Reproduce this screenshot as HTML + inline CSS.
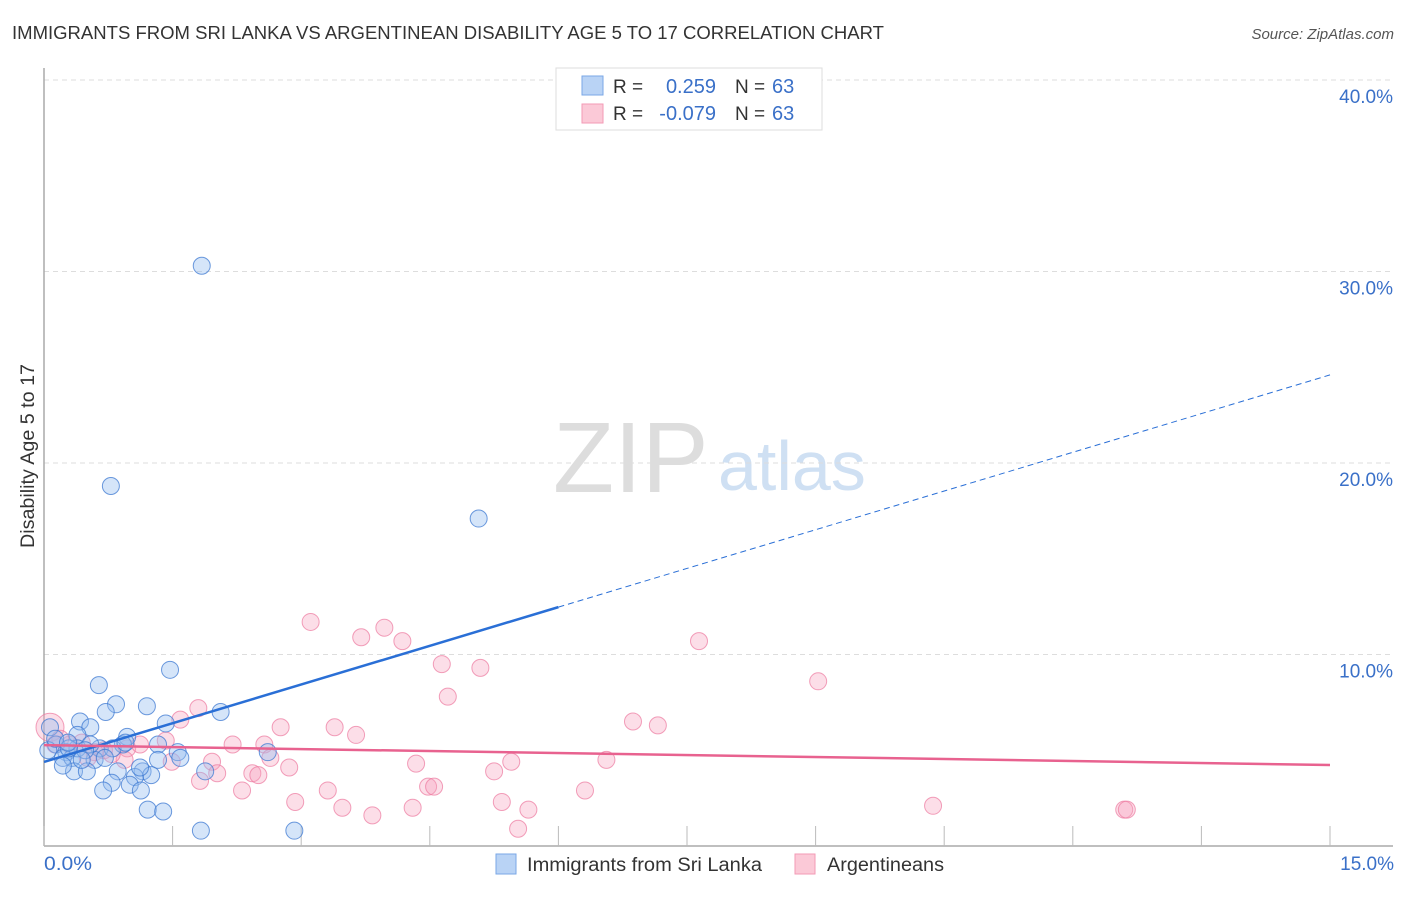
<!DOCTYPE html>
<html><head><meta charset="utf-8"><style>
body{margin:0;background:#fff;font-family:"Liberation Sans",sans-serif}
svg text{font-family:"Liberation Sans",sans-serif}
</style></head><body>
<svg id="c" width="1406" height="892">
<text x="12" y="39" font-size="18" fill="#333" textLength="872" lengthAdjust="spacingAndGlyphs">IMMIGRANTS FROM SRI LANKA VS ARGENTINEAN DISABILITY AGE 5 TO 17 CORRELATION CHART</text>
<text x="1394" y="39" font-size="15" fill="#555" font-style="italic" text-anchor="end">Source: ZipAtlas.com</text>
<g>
<text x="553" y="492" font-size="100" fill="#ddd" font-family="Liberation Serif">ZIP</text>
<text x="718" y="490" font-size="70" fill="#cfe0f3">atlas</text>
</g>
<g id="grid"></g><g id="axes"></g><g id="pts"></g><g id="lines"></g>
<text transform="translate(34,456) rotate(-90)" font-size="19" fill="#333" text-anchor="middle" textLength="184" lengthAdjust="spacingAndGlyphs">Disability Age 5 to 17</text>
<text x="44" y="870" font-size="19" fill="#3a70c8" textLength="48" lengthAdjust="spacingAndGlyphs">0.0%</text>
<text x="1394" y="870" font-size="19" fill="#3a70c8" text-anchor="end">15.0%</text>
<g>
<rect x="556" y="68" width="266" height="62" fill="#fff" stroke="#ddd"/>
<rect x="582" y="76" width="21" height="19" fill="#b9d3f5" stroke="#7aa7e6"/>
<rect x="582" y="104" width="21" height="19" fill="#fbc9d7" stroke="#f39ab5"/>
<text x="613" y="93" font-size="19" fill="#333">R =</text>
<text x="716" y="93" font-size="20" fill="#3a70c8" text-anchor="end">0.259</text>
<text x="735" y="93" font-size="19" fill="#333">N =</text><text x="772" y="93" font-size="20" fill="#3a70c8">63</text>
<text x="613" y="120" font-size="19" fill="#333">R =</text>
<text x="716" y="120" font-size="20" fill="#3a70c8" text-anchor="end">-0.079</text>
<text x="735" y="120" font-size="19" fill="#333">N =</text><text x="772" y="120" font-size="20" fill="#3a70c8">63</text>
</g>
<g>
<rect x="496" y="854" width="20" height="20" fill="#b9d3f5" stroke="#7aa7e6"/>
<text x="527" y="871" font-size="19" fill="#333" textLength="235" lengthAdjust="spacingAndGlyphs">Immigrants from Sri Lanka</text>
<rect x="795" y="854" width="20" height="20" fill="#fbc9d7" stroke="#f39ab5"/>
<text x="827" y="871" font-size="19" fill="#333" textLength="117" lengthAdjust="spacingAndGlyphs">Argentineans</text>
</g>
</svg>
<script>
const yTicks=[10,20,30,40];
const yTickLabels=["10.0%","20.0%","30.0%","40.0%"];
const xTicks=[0,1.5,3,4.5,6,7.5,9,10.5,12,13.5,15];
const blueX=[1.84,0.78,5.07,1.47,0.64,0.84,1.20,2.06,0.72,0.42,0.54,1.42,0.97,0.39,0.07,0.14,0.05,0.26,0.22,0.33,0.39,0.65,0.92,1.33,1.56,1.33,0.59,0.35,0.50,0.86,1.15,1.25,1.06,1.88,0.79,1.00,0.69,1.13,1.21,1.39,1.83,2.92,2.61,0.54,0.48,0.80,0.95,0.29,0.13,1.59,0.28,0.44,0.71,1.12,0.22];
const blueY=[30.3,18.8,17.1,9.2,8.4,7.4,7.3,7.0,7.0,6.5,6.2,6.4,5.7,5.8,6.2,5.3,5.0,4.9,4.6,4.6,5.1,5.1,5.3,5.3,4.9,4.5,4.5,3.9,3.9,3.9,3.9,3.7,3.6,3.9,3.3,3.2,2.9,2.9,1.9,1.8,0.8,0.8,4.9,5.3,5.0,5.1,5.4,5.1,5.6,4.6,5.4,4.5,4.6,4.1,4.2];
const pinkX=[3.11,3.70,3.97,4.18,7.64,4.64,5.09,4.71,9.03,1.80,1.59,6.87,7.16,2.76,3.39,3.64,0.07,2.20,2.57,1.42,0.97,0.70,0.30,2.64,1.96,1.49,0.94,4.34,5.45,6.56,2.86,2.02,2.43,2.50,5.25,1.82,2.31,3.31,4.48,4.55,6.31,2.93,3.48,4.30,5.34,5.65,3.83,5.53,10.37,12.60,12.63,0.19,0.44,0.59,0.79,1.12,0.51,0.13];
const pinkY=[11.7,10.9,11.4,10.7,10.7,9.5,9.3,7.8,8.6,7.2,6.6,6.5,6.3,6.2,6.2,5.8,6.2,5.3,5.3,5.5,5.1,5.0,5.3,4.6,4.4,4.4,4.5,4.3,4.4,4.5,4.1,3.8,3.8,3.7,3.9,3.4,2.9,2.9,3.1,3.1,2.9,2.3,2.0,2.0,2.3,1.9,1.6,0.9,2.1,1.9,1.9,5.6,5.4,4.9,4.8,5.3,4.6,5.3];
const blueFit=[4.39,24.6]; // y at x=0, x=15
const pinkFit=[5.27,4.23];
const blueSolidEnd=6.0;
const X0=44,X1=1330,Y0=846,PPY=19.15;
const sx=v=>X0+(X1-X0)*v/15, sy=v=>Y0-v*PPY;
const NS="http://www.w3.org/2000/svg";
function mk(p,t,a){const e=document.createElementNS(NS,t);for(const k in a)e.setAttribute(k,a[k]);document.getElementById(p).appendChild(e);return e;}
yTicks.forEach((t,i)=>{
 const g=mk('grid','line',{x1:X0,x2:1393,y1:sy(t),y2:sy(t),stroke:'#ddd','stroke-dasharray':'5,4'});
 
 
 const l=mk('grid','text',{x:1393,y:sy(t)+23,'font-size':19,fill:'#3a70c8','text-anchor':'end'});
 l.textContent=yTickLabels[i];
 
 
});
const tl=mk('grid','line',{x1:X0,x2:1393,y1:80,y2:80,stroke:'#ddd','stroke-dasharray':'5,4'});


const ya=mk('axes','line',{x1:X0,x2:X0,y1:68,y2:Y0,stroke:'#aaa','stroke-width':1.5});


const xa=mk('axes','line',{x1:X0,x2:1393,y1:Y0,y2:Y0,stroke:'#aaa','stroke-width':1.5});


xTicks.forEach(t=>{
 const e=mk('axes','line',{x1:sx(t),x2:sx(t),y1:Y0-20,y2:Y0,stroke:'#bbb'});
 
 
});
pinkX.forEach((x,i)=>{
 const c=mk('pts','circle',{cx:sx(x),cy:sy(pinkY[i]),r:i==16?14:8.5,fill:'rgba(246,160,188,0.35)',stroke:'rgba(236,120,158,0.7)','stroke-width':1});
 
 
});
blueX.forEach((x,i)=>{
 const c=mk('pts','circle',{cx:sx(x),cy:sy(blueY[i]),r:8.5,fill:'rgba(150,190,240,0.4)',stroke:'rgba(60,120,210,0.75)','stroke-width':1});
 
 
});
const bf=x=>blueFit[0]+(blueFit[1]-blueFit[0])*x/15;
const b1=mk('lines','line',{x1:sx(0),y1:sy(bf(0)),x2:sx(blueSolidEnd),y2:sy(bf(blueSolidEnd)),stroke:'#2a6fd6','stroke-width':2.5});


const b2=mk('lines','line',{x1:sx(blueSolidEnd),y1:sy(bf(blueSolidEnd)),x2:sx(15),y2:sy(bf(15)),stroke:'#2a6fd6','stroke-width':1,'stroke-dasharray':'6,4'});


const p1=mk('lines','line',{x1:sx(0),y1:sy(pinkFit[0]),x2:sx(15),y2:sy(pinkFit[1]),stroke:'#e8628f','stroke-width':2.5});


</script>
</body></html>
